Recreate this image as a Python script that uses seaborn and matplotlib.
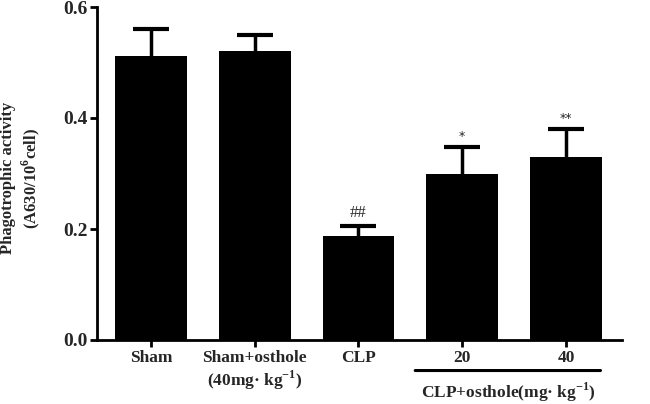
import matplotlib
matplotlib.use("Agg")
import matplotlib.pyplot as plt
import seaborn as sns
import numpy as np
import pandas as pd

groups = ["Sham", "Sham+osthole\n(40mg· kg$^{\\mathbf{-1}}$)", "CLP", "20", "40"]
means = [0.512, 0.521, 0.187, 0.299, 0.330]
errors = [0.048, 0.028, 0.019, 0.048, 0.050]
marks = ["", "", "##", "*", "**"]
yticks = [0.0, 0.2, 0.4, 0.6]

sns.set_theme(style="ticks")
plt.rcParams['font.family'] = ['Liberation Serif', 'DejaVu Serif']
plt.rcParams['mathtext.fontset'] = 'custom'
plt.rcParams['mathtext.rm'] = 'Liberation Serif:bold'
plt.rcParams['mathtext.bf'] = 'Liberation Serif:bold'

df = pd.DataFrame({"group": groups, "mean": means})

fig = plt.figure(figsize=(6.5, 4.04), dpi=100)
ax = fig.add_axes([97/650, 1-340/404, (622-97)/650, (340-7)/404])

sns.barplot(data=df, x="group", y="mean", color="black", width=0.69,
            errorbar=None, ax=ax, saturation=1, linewidth=0)

x = np.arange(len(groups))
eb = ax.errorbar(x, means, yerr=[np.zeros(len(means)), errors], fmt="none",
                 ecolor="black", elinewidth=2.5, capsize=13, capthick=3, zorder=1)
for cl in eb[1]:
    if np.allclose(cl.get_ydata(), means):
        cl.set_visible(False)

for xi, m, e, t in zip(x, means, errors, marks):
    if t:
        ax.text(xi, m + e + 0.008, t, ha="center", va="bottom",
                fontsize=9 if "*" in t else 12,
                family=["DejaVu Sans"] if "*" in t else ["Liberation Serif"])

ax.set_ylim(0, 0.6)
ax.set_xlim(-0.52, 4.54)
ax.set_yticks(yticks)
ax.set_yticklabels([f"{v:.1f}" for v in yticks], fontsize=14, fontweight="bold")
ax.set_xticks(x)
ax.set_xticklabels(groups, fontsize=12.5, fontweight="bold", va="top")
ax.set_xlabel("")
ax.set_ylabel("Phagotrophic activity\n(A630/10$^{\\mathbf{6}}$cell)", fontsize=12,
              fontweight="bold")
ax.yaxis.set_label_coords(-0.105, 0.486)

for s in ["top", "right"]:
    ax.spines[s].set_visible(False)
for s in ["left", "bottom"]:
    ax.spines[s].set_linewidth(2)
    ax.spines[s].set_color("black")
    ax.spines[s].set_zorder(5)
ax.tick_params(axis="both", width=2, length=5, color="black", direction="out", pad=2)

# group line for CLP+osthole doses
ax.annotate("", xy=(2.52, -0.055), xytext=(4.36, -0.055), xycoords="data",
            arrowprops=dict(arrowstyle="-", lw=2.2, color="black"), annotation_clip=False)
ax.text(3.45, -0.095, "CLP+osthole(mg· kg$^{\\mathbf{-1}}$)", ha="center", va="center",
        fontsize=12.5, fontweight="bold", transform=ax.transData, clip_on=False)

fig.savefig("out.png", dpi=100, facecolor="white")
